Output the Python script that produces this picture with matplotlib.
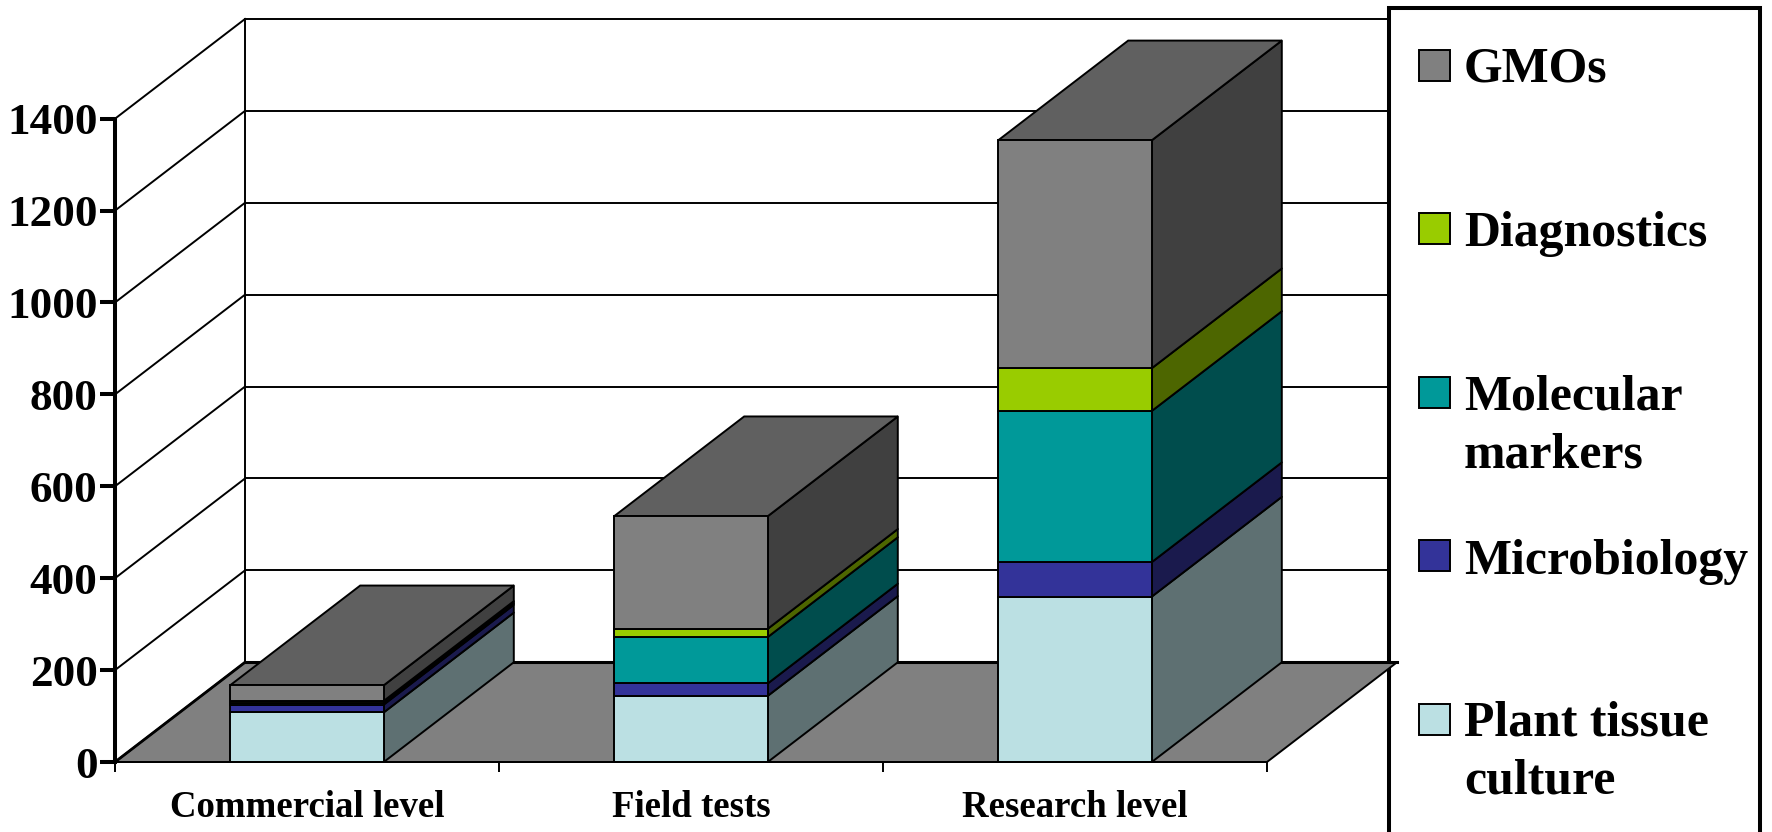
#For plot
import matplotlib
matplotlib.use('Agg')
import matplotlib.pyplot as plt
from matplotlib.patches import Rectangle
from matplotlib.transforms import Affine2D

W, H = 1772, 832

categories = ['Commercial level', 'Field tests', 'Research level']
y_ticks = [0, 200, 400, 600, 800, 1000, 1200, 1400]

# stacked from the floor up
series_names = ['Plant tissue culture', 'Microbiology', 'Molecular markers', 'Diagnostics', 'GMOs']
plant_tissue = [108, 144, 360]
microbiology = [17, 27, 75]
molecular = [4, 101, 329]
diagnostics = [4, 18, 93]
gmos = [34, 245, 496]

front_colors = ['#BBE0E3', '#333399', '#009999', '#99CC00', '#808080']
side_colors = ['#5E7072', '#1A1A4D', '#004D4D', '#4D6600', '#404040']
top_color = '#606060'
floor_color = '#808080'

# depth of the fake 3D box, in axis units
depth_x = 130 / 384
depth_y = 217
bar_width = 0.4

LW_THIN = 1.4
LW_THICK = 2.9

plt.rcParams['font.family'] = ['Liberation Serif', 'DejaVu Serif']
plt.rcParams['font.weight'] = 'bold'

fig = plt.figure(figsize=(W / 100, H / 100), dpi=100)
ax = fig.add_axes([0, 0, 1, 1])
# x: 115px is 0 and 384px per category, y: 762px is 0 and 0.4595px per unit
ax.set_xlim(-115 / 384, (W - 115) / 384)
ax.set_ylim(-(H - 762) / 0.4595, 762 / 0.4595)
ax.patch.set_visible(False)

# walls and gridlines
for v in y_ticks[1:]:
    ax.plot([0, depth_x], [v, v + depth_y], color='black', lw=LW_THIN, zorder=1)
    ax.plot([depth_x, 3 + depth_x], [v + depth_y, v + depth_y], color='black', lw=LW_THIN, zorder=1)
ax.plot([depth_x, depth_x], [depth_y, y_ticks[-1] + depth_y], color='black', lw=LW_THIN, zorder=1)

# legend box, in pixels from the top left
px = Affine2D().scale(1, -1).translate(0, H)
ax.add_patch(Rectangle((1389, 8), 371, 840, transform=px, facecolor='white',
                       edgecolor='black', lw=LW_THICK, zorder=2))

# floor
ax.fill([0, 3, 3 + depth_x, depth_x], [0, 0, depth_y, depth_y], facecolor=floor_color,
        edgecolor='black', lw=LW_THIN, zorder=3)
ax.plot([depth_x, 3 + depth_x], [depth_y, depth_y], color='black', lw=2.2, zorder=3)
ax.plot([0, depth_x], [0, depth_y], color='black', lw=2.0, zorder=3)

# bars
stack = [plant_tissue, microbiology, molecular, diagnostics, gmos]
xpos = [0.5, 1.5, 2.5]
bottoms = [0, 0, 0]
for values, fc, sc in zip(stack, front_colors, side_colors):
    ax.bar(xpos, values, width=bar_width, bottom=bottoms, color=fc, edgecolor='black',
           lw=LW_THIN, zorder=5)
    for x, b, v in zip(xpos, bottoms, values):
        r = x + bar_width / 2
        ax.fill([r, r + depth_x, r + depth_x, r],
                [b, b + depth_y, b + v + depth_y, b + v],
                facecolor=sc, edgecolor='black', lw=LW_THIN, joinstyle='round', zorder=4)
    bottoms = [b + v for b, v in zip(bottoms, values)]
for x, t in zip(xpos, bottoms):
    l = x - bar_width / 2
    r = x + bar_width / 2
    ax.fill([l, r, r + depth_x, l + depth_x], [t, t, t + depth_y, t + depth_y],
            facecolor=top_color, edgecolor='black', lw=LW_THIN, zorder=4)

# axes
for name in ['top', 'right']:
    ax.spines[name].set_visible(False)
ax.spines['left'].set_position(('data', 0))
ax.spines['left'].set_bounds(0, 1400)
ax.spines['left'].set_linewidth(LW_THICK)
ax.spines['left'].set_zorder(7)
ax.spines['bottom'].set_position(('data', 0))
ax.spines['bottom'].set_bounds(0, 3)
ax.spines['bottom'].set_linewidth(LW_THIN)
ax.spines['bottom'].set_zorder(7)

ax.set_yticks(y_ticks)
ax.set_yticklabels([str(v) for v in y_ticks], fontsize=32.5, fontweight='bold')
ax.tick_params(axis='y', length=10.5, width=LW_THICK, pad=2)
ax.set_xticks([0, 1, 2, 3])
ax.set_xticklabels([])
ax.tick_params(axis='x', which='major', length=7.2, width=LW_THIN)
ax.set_xticks(xpos, minor=True)
ax.set_xticklabels(categories, minor=True, fontsize=26.6, fontweight='bold')
ax.tick_params(axis='x', which='minor', length=0, pad=20)

# legend
legend_rows = [
    (gmos, 65, ['GMOs'], [82]),
    (diagnostics, 228, ['Diagnostics'], [246]),
    (molecular, 392, ['Molecular', 'markers'], [410, 467]),
    (microbiology, 555, ['Microbiology'], [574]),
    (plant_tissue, 719, ['Plant tissue', 'culture'], [736, 793]),
]
for i, (values, yc, lines, baselines) in enumerate(legend_rows):
    color = front_colors[len(front_colors) - 1 - i]
    ax.add_patch(Rectangle((1419, yc - 15.5), 31, 31, transform=px, facecolor=color,
                           edgecolor='black', lw=LW_THIN, zorder=6))
    for line, base in zip(lines, baselines):
        ax.text(1464, base, line, transform=px, fontsize=35.8, fontweight='bold',
                va='baseline', ha='left', zorder=6)

fig.savefig('out.png', dpi=100)
